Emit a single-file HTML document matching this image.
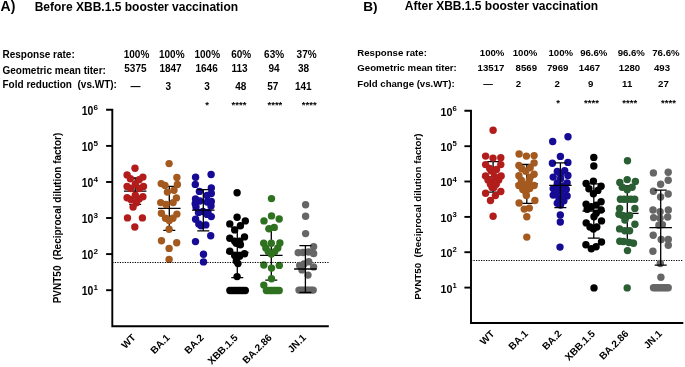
<!DOCTYPE html>
<html><head><meta charset="utf-8"><style>
html,body{margin:0;padding:0;background:#fff;}
svg{display:block;will-change:transform;}
text{font-family:"Liberation Sans",sans-serif;font-weight:bold;fill:#000;}
.b13{font-size:13px;} .b12{font-size:12px;} .b10{font-size:10px;} .b8{font-size:8px;}
</style></head><body>
<svg width="685" height="367" viewBox="0 0 685 367">
<rect width="685" height="367" fill="#fff"/>
<text x="0.6" y="10.8" style="font-size:14px">A)</text>
<text x="34.7" y="10.7" style="font-size:12px">Before XBB.1.5 booster vaccination</text>
<text x="2.5" y="57.5" style="font-size:10px" xml:space="preserve">Response rate:</text>
<text x="2.5" y="73.5" style="font-size:10px" xml:space="preserve">Geometric mean titer:</text>
<text x="2.5" y="88.0" style="font-size:10px" xml:space="preserve">Fold reduction  (vs.WT):</text>
<text x="136.5" y="57.5" text-anchor="middle" style="font-size:10px">100%</text>
<text x="171.8" y="57.5" text-anchor="middle" style="font-size:10px">100%</text>
<text x="207.3" y="57.5" text-anchor="middle" style="font-size:10px">100%</text>
<text x="241.2" y="57.5" text-anchor="middle" style="font-size:10px">60%</text>
<text x="274.1" y="57.5" text-anchor="middle" style="font-size:10px">63%</text>
<text x="306.6" y="57.5" text-anchor="middle" style="font-size:10px">37%</text>
<text x="135.4" y="71.9" text-anchor="middle" style="font-size:10px">5375</text>
<text x="170.5" y="71.9" text-anchor="middle" style="font-size:10px">1847</text>
<text x="206.6" y="71.9" text-anchor="middle" style="font-size:10px">1646</text>
<text x="239.6" y="71.9" text-anchor="middle" style="font-size:10px">113</text>
<text x="274.0" y="71.9" text-anchor="middle" style="font-size:10px">94</text>
<text x="303.5" y="71.9" text-anchor="middle" style="font-size:10px">38</text>
<text x="135.4" y="89.7" text-anchor="middle" style="font-size:10px">—</text>
<text x="168.2" y="89.7" text-anchor="middle" style="font-size:10px">3</text>
<text x="207.0" y="89.7" text-anchor="middle" style="font-size:10px">3</text>
<text x="240.7" y="89.7" text-anchor="middle" style="font-size:10px">48</text>
<text x="272.8" y="89.7" text-anchor="middle" style="font-size:10px">57</text>
<text x="303.3" y="89.7" text-anchor="middle" style="font-size:10px">141</text>
<text x="207.0" y="107.5" text-anchor="middle" style="font-size:9.5px">*</text>
<text x="239.0" y="107.5" text-anchor="middle" style="font-size:9.5px">****</text>
<text x="274.9" y="107.5" text-anchor="middle" style="font-size:9.5px">****</text>
<text x="309.2" y="107.5" text-anchor="middle" style="font-size:9.5px">****</text>
<text x="363.2" y="11.4" style="font-size:13.6px">B)</text>
<text x="404.8" y="10.4" style="font-size:12px">After XBB.1.5 booster vaccination</text>
<text x="357.3" y="56.1" style="font-size:9.65px" xml:space="preserve">Response rate:</text>
<text x="357.3" y="70.7" style="font-size:9.65px" xml:space="preserve">Geometric mean titer:</text>
<text x="357.3" y="86.5" style="font-size:9.65px" xml:space="preserve">Fold change (vs.WT):</text>
<text x="492.1" y="56.2" text-anchor="middle" style="font-size:9.65px">100%</text>
<text x="525.0" y="56.2" text-anchor="middle" style="font-size:9.65px">100%</text>
<text x="560.8" y="56.2" text-anchor="middle" style="font-size:9.65px">100%</text>
<text x="593.8" y="56.2" text-anchor="middle" style="font-size:9.65px">96.6%</text>
<text x="631.3" y="56.2" text-anchor="middle" style="font-size:9.65px">96.6%</text>
<text x="665.9" y="56.2" text-anchor="middle" style="font-size:9.65px">76.6%</text>
<text x="491.0" y="70.6" text-anchor="middle" style="font-size:9.65px">13517</text>
<text x="526.3" y="70.6" text-anchor="middle" style="font-size:9.65px">8569</text>
<text x="557.7" y="70.6" text-anchor="middle" style="font-size:9.65px">7969</text>
<text x="589.5" y="70.6" text-anchor="middle" style="font-size:9.65px">1467</text>
<text x="629.5" y="70.6" text-anchor="middle" style="font-size:9.65px">1280</text>
<text x="662.0" y="70.6" text-anchor="middle" style="font-size:9.65px">493</text>
<text x="488.0" y="87.1" text-anchor="middle" style="font-size:9.65px">—</text>
<text x="518.5" y="87.1" text-anchor="middle" style="font-size:9.65px">2</text>
<text x="557.1" y="87.1" text-anchor="middle" style="font-size:9.65px">2</text>
<text x="590.6" y="87.1" text-anchor="middle" style="font-size:9.65px">9</text>
<text x="627.2" y="87.1" text-anchor="middle" style="font-size:9.65px">11</text>
<text x="663.4" y="87.1" text-anchor="middle" style="font-size:9.65px">27</text>
<text x="558.0" y="105.5" text-anchor="middle" style="font-size:9.5px">*</text>
<text x="591.5" y="105.5" text-anchor="middle" style="font-size:9.5px">****</text>
<text x="629.7" y="105.5" text-anchor="middle" style="font-size:9.5px">****</text>
<text x="668.5" y="105.5" text-anchor="middle" style="font-size:9.5px">****</text>
<text transform="translate(61.0,218) rotate(-90)" text-anchor="middle" class="b10" xml:space="preserve">PVNT50  (Reciprocal dilution factor)</text>
<text transform="translate(421.2,216.6) rotate(-90)" text-anchor="middle" style="font-size:9.75px" xml:space="preserve">PVNT50  (Reciprocal dilution factor)</text>
<path d="M106.1 109.8H112.3V326.3H328.8" fill="none" stroke="#000" stroke-width="1.9"/>
<line x1="106.1" y1="145.9" x2="112.3" y2="145.9" stroke="#000" stroke-width="1.9"/>
<line x1="106.1" y1="182.0" x2="112.3" y2="182.0" stroke="#000" stroke-width="1.9"/>
<line x1="106.1" y1="218.0" x2="112.3" y2="218.0" stroke="#000" stroke-width="1.9"/>
<line x1="106.1" y1="254.1" x2="112.3" y2="254.1" stroke="#000" stroke-width="1.9"/>
<line x1="106.1" y1="290.2" x2="112.3" y2="290.2" stroke="#000" stroke-width="1.9"/>
<text x="93.3" y="114.7" text-anchor="end" textLength="11.6" lengthAdjust="spacingAndGlyphs" style="font-size:12px">10</text><text x="93.6" y="109.9" style="font-size:8.1px">6</text>
<text x="93.3" y="150.8" text-anchor="end" textLength="11.6" lengthAdjust="spacingAndGlyphs" style="font-size:12px">10</text><text x="93.6" y="146.0" style="font-size:8.1px">5</text>
<text x="93.3" y="186.9" text-anchor="end" textLength="11.6" lengthAdjust="spacingAndGlyphs" style="font-size:12px">10</text><text x="93.6" y="182.1" style="font-size:8.1px">4</text>
<text x="93.3" y="222.9" text-anchor="end" textLength="11.6" lengthAdjust="spacingAndGlyphs" style="font-size:12px">10</text><text x="93.6" y="218.1" style="font-size:8.1px">3</text>
<text x="93.3" y="259.0" text-anchor="end" textLength="11.6" lengthAdjust="spacingAndGlyphs" style="font-size:12px">10</text><text x="93.6" y="254.2" style="font-size:8.1px">2</text>
<text x="93.3" y="295.1" text-anchor="end" textLength="11.6" lengthAdjust="spacingAndGlyphs" style="font-size:12px">10</text><text x="93.6" y="290.3" style="font-size:8.1px">1</text>
<path d="M123.95 191.2h22.5M135.2 178.0V204.4M129.2 178.0h12M129.2 204.4h12" stroke="#000" stroke-width="1.3" fill="none"/>
<path d="M158.05 208.4h22.5M169.3 186.4V230.4M163.3 186.4h12M163.3 230.4h12" stroke="#000" stroke-width="1.3" fill="none"/>
<path d="M226.05 252.5h22.5M237.3 227.3V277.7M231.3 227.3h12M231.3 277.7h12" stroke="#000" stroke-width="1.3" fill="none"/>
<path d="M260.05 255.3h22.5M271.3 229.2V280.2M265.3 229.2h12M265.3 280.2h12" stroke="#000" stroke-width="1.3" fill="none"/>
<circle cx="135.0" cy="168.2" r="3.7" fill="#b21d1c"/>
<circle cx="127.1" cy="174.9" r="3.7" fill="#b21d1c"/>
<circle cx="142.9" cy="177.1" r="3.7" fill="#b21d1c"/>
<circle cx="130.4" cy="178.7" r="3.7" fill="#b21d1c"/>
<circle cx="139.1" cy="179.8" r="3.7" fill="#b21d1c"/>
<circle cx="135.3" cy="184.2" r="3.7" fill="#b21d1c"/>
<circle cx="127.1" cy="186.4" r="3.7" fill="#b21d1c"/>
<circle cx="143.5" cy="186.4" r="3.7" fill="#b21d1c"/>
<circle cx="130.9" cy="188.5" r="3.7" fill="#b21d1c"/>
<circle cx="139.6" cy="188.5" r="3.7" fill="#b21d1c"/>
<circle cx="135.3" cy="195.1" r="3.7" fill="#b21d1c"/>
<circle cx="127.1" cy="197.8" r="3.7" fill="#b21d1c"/>
<circle cx="142.9" cy="196.7" r="3.7" fill="#b21d1c"/>
<circle cx="130.9" cy="199.5" r="3.7" fill="#b21d1c"/>
<circle cx="139.1" cy="198.9" r="3.7" fill="#b21d1c"/>
<circle cx="136.4" cy="202.7" r="3.7" fill="#b21d1c"/>
<circle cx="133.1" cy="207.1" r="3.7" fill="#b21d1c"/>
<circle cx="127.5" cy="217.9" r="3.7" fill="#b21d1c"/>
<circle cx="142.4" cy="217.9" r="3.7" fill="#b21d1c"/>
<circle cx="134.8" cy="227.0" r="3.7" fill="#b21d1c"/>
<circle cx="169.1" cy="163.6" r="3.7" fill="#a45a1f"/>
<circle cx="176.9" cy="177.4" r="3.7" fill="#a45a1f"/>
<circle cx="161.2" cy="183.6" r="3.7" fill="#a45a1f"/>
<circle cx="165.0" cy="185.5" r="3.7" fill="#a45a1f"/>
<circle cx="177.4" cy="184.5" r="3.7" fill="#a45a1f"/>
<circle cx="174.0" cy="190.2" r="3.7" fill="#a45a1f"/>
<circle cx="167.4" cy="192.1" r="3.7" fill="#a45a1f"/>
<circle cx="176.4" cy="197.9" r="3.7" fill="#a45a1f"/>
<circle cx="160.7" cy="202.6" r="3.7" fill="#a45a1f"/>
<circle cx="166.0" cy="204.5" r="3.7" fill="#a45a1f"/>
<circle cx="173.1" cy="202.6" r="3.7" fill="#a45a1f"/>
<circle cx="161.4" cy="213.3" r="3.7" fill="#a45a1f"/>
<circle cx="176.9" cy="214.1" r="3.7" fill="#a45a1f"/>
<circle cx="165.5" cy="218.2" r="3.7" fill="#a45a1f"/>
<circle cx="172.9" cy="218.2" r="3.7" fill="#a45a1f"/>
<circle cx="169.3" cy="220.6" r="3.7" fill="#a45a1f"/>
<circle cx="169.1" cy="229.3" r="3.7" fill="#a45a1f"/>
<circle cx="161.5" cy="240.7" r="3.7" fill="#a45a1f"/>
<circle cx="176.7" cy="242.7" r="3.7" fill="#a45a1f"/>
<circle cx="169.1" cy="248.4" r="3.7" fill="#a45a1f"/>
<circle cx="169.1" cy="259.4" r="3.7" fill="#a45a1f"/>
<circle cx="237.1" cy="192.8" r="3.7" fill="#000000"/>
<circle cx="237.1" cy="217.3" r="3.7" fill="#000000"/>
<circle cx="229.8" cy="223.9" r="3.7" fill="#000000"/>
<circle cx="245.3" cy="220.9" r="3.7" fill="#000000"/>
<circle cx="240.4" cy="225.8" r="3.7" fill="#000000"/>
<circle cx="234.7" cy="229.9" r="3.7" fill="#000000"/>
<circle cx="229.8" cy="238.2" r="3.7" fill="#000000"/>
<circle cx="244.5" cy="236.9" r="3.7" fill="#000000"/>
<circle cx="234.7" cy="241.3" r="3.7" fill="#000000"/>
<circle cx="239.6" cy="241.3" r="3.7" fill="#000000"/>
<circle cx="236.3" cy="243.2" r="3.7" fill="#000000"/>
<circle cx="240.4" cy="244.8" r="3.7" fill="#000000"/>
<circle cx="229.8" cy="251.3" r="3.7" fill="#000000"/>
<circle cx="244.5" cy="253.8" r="3.7" fill="#000000"/>
<circle cx="234.7" cy="255.4" r="3.7" fill="#000000"/>
<circle cx="239.6" cy="256.2" r="3.7" fill="#000000"/>
<circle cx="236.3" cy="261.1" r="3.7" fill="#000000"/>
<circle cx="238.0" cy="263.6" r="3.7" fill="#000000"/>
<circle cx="237.1" cy="276.6" r="3.7" fill="#000000"/>
<circle cx="229.9" cy="290.5" r="3.7" fill="#000000"/>
<circle cx="231.8" cy="290.5" r="3.7" fill="#000000"/>
<circle cx="233.8" cy="290.5" r="3.7" fill="#000000"/>
<circle cx="235.7" cy="290.5" r="3.7" fill="#000000"/>
<circle cx="237.6" cy="290.5" r="3.7" fill="#000000"/>
<circle cx="239.5" cy="290.5" r="3.7" fill="#000000"/>
<circle cx="241.5" cy="290.5" r="3.7" fill="#000000"/>
<circle cx="243.4" cy="290.5" r="3.7" fill="#000000"/>
<circle cx="245.3" cy="290.5" r="3.7" fill="#000000"/>
<circle cx="271.5" cy="198.6" r="3.7" fill="#2e721f"/>
<circle cx="271.5" cy="215.9" r="3.7" fill="#2e721f"/>
<circle cx="264.0" cy="220.9" r="3.7" fill="#2e721f"/>
<circle cx="279.2" cy="219.0" r="3.7" fill="#2e721f"/>
<circle cx="269.0" cy="228.8" r="3.7" fill="#2e721f"/>
<circle cx="274.2" cy="227.4" r="3.7" fill="#2e721f"/>
<circle cx="263.7" cy="243.2" r="3.7" fill="#2e721f"/>
<circle cx="265.8" cy="248.0" r="3.7" fill="#2e721f"/>
<circle cx="268.2" cy="251.6" r="3.7" fill="#2e721f"/>
<circle cx="271.3" cy="254.0" r="3.7" fill="#2e721f"/>
<circle cx="274.8" cy="251.6" r="3.7" fill="#2e721f"/>
<circle cx="277.8" cy="248.0" r="3.7" fill="#2e721f"/>
<circle cx="279.9" cy="242.9" r="3.7" fill="#2e721f"/>
<circle cx="271.3" cy="243.2" r="3.7" fill="#2e721f"/>
<circle cx="263.8" cy="265.0" r="3.7" fill="#2e721f"/>
<circle cx="279.3" cy="265.4" r="3.7" fill="#2e721f"/>
<circle cx="271.5" cy="268.1" r="3.7" fill="#2e721f"/>
<circle cx="271.5" cy="278.7" r="3.7" fill="#2e721f"/>
<circle cx="263.8" cy="285.1" r="3.7" fill="#2e721f"/>
<circle cx="266.4" cy="290.5" r="3.7" fill="#2e721f"/>
<circle cx="268.2" cy="290.5" r="3.7" fill="#2e721f"/>
<circle cx="270.1" cy="290.5" r="3.7" fill="#2e721f"/>
<circle cx="271.9" cy="290.5" r="3.7" fill="#2e721f"/>
<circle cx="273.7" cy="290.5" r="3.7" fill="#2e721f"/>
<circle cx="275.5" cy="290.5" r="3.7" fill="#2e721f"/>
<circle cx="277.4" cy="290.5" r="3.7" fill="#2e721f"/>
<circle cx="279.2" cy="290.5" r="3.7" fill="#2e721f"/>
<line x1="112.3" y1="262.5" x2="328.8" y2="262.5" stroke="#000" stroke-width="1" stroke-dasharray="1.25,1.25"/>
<circle cx="211.1" cy="174.5" r="3.7" fill="#150b95"/>
<circle cx="195.6" cy="177.2" r="3.7" fill="#150b95"/>
<circle cx="195.3" cy="184.4" r="3.7" fill="#150b95"/>
<circle cx="211.3" cy="187.9" r="3.7" fill="#150b95"/>
<circle cx="199.4" cy="191.4" r="3.7" fill="#150b95"/>
<circle cx="211.3" cy="193.5" r="3.7" fill="#150b95"/>
<circle cx="207.0" cy="195.5" r="3.7" fill="#150b95"/>
<circle cx="195.5" cy="199.0" r="3.7" fill="#150b95"/>
<circle cx="199.8" cy="201.0" r="3.7" fill="#150b95"/>
<circle cx="211.3" cy="201.4" r="3.7" fill="#150b95"/>
<circle cx="195.2" cy="203.8" r="3.7" fill="#150b95"/>
<circle cx="207.2" cy="202.0" r="3.7" fill="#150b95"/>
<circle cx="211.0" cy="206.0" r="3.7" fill="#150b95"/>
<circle cx="196.0" cy="207.0" r="3.7" fill="#150b95"/>
<circle cx="203.0" cy="211.5" r="3.7" fill="#150b95"/>
<circle cx="198.5" cy="212.5" r="3.7" fill="#150b95"/>
<circle cx="208.0" cy="212.5" r="3.7" fill="#150b95"/>
<circle cx="211.3" cy="216.6" r="3.7" fill="#150b95"/>
<circle cx="195.6" cy="219.3" r="3.7" fill="#150b95"/>
<circle cx="207.2" cy="214.4" r="3.7" fill="#150b95"/>
<circle cx="198.8" cy="224.0" r="3.7" fill="#150b95"/>
<circle cx="201.1" cy="225.8" r="3.7" fill="#150b95"/>
<circle cx="205.8" cy="224.9" r="3.7" fill="#150b95"/>
<circle cx="210.7" cy="235.7" r="3.7" fill="#150b95"/>
<circle cx="195.5" cy="241.6" r="3.7" fill="#150b95"/>
<circle cx="203.5" cy="254.3" r="3.7" fill="#150b95"/>
<circle cx="203.5" cy="261.9" r="3.7" fill="#150b95"/>
<circle cx="305.6" cy="204.8" r="3.7" fill="#666666"/>
<circle cx="305.6" cy="216.2" r="3.7" fill="#666666"/>
<circle cx="305.6" cy="233.6" r="3.7" fill="#666666"/>
<circle cx="313.6" cy="246.7" r="3.7" fill="#666666"/>
<circle cx="298.2" cy="252.7" r="3.7" fill="#666666"/>
<circle cx="303.0" cy="252.5" r="3.7" fill="#666666"/>
<circle cx="308.5" cy="252.0" r="3.7" fill="#666666"/>
<circle cx="313.6" cy="253.5" r="3.7" fill="#666666"/>
<circle cx="308.7" cy="261.7" r="3.7" fill="#666666"/>
<circle cx="299.7" cy="265.4" r="3.7" fill="#666666"/>
<circle cx="304.0" cy="264.0" r="3.7" fill="#666666"/>
<circle cx="313.6" cy="266.9" r="3.7" fill="#666666"/>
<circle cx="302.0" cy="269.9" r="3.7" fill="#666666"/>
<circle cx="308.0" cy="275.1" r="3.7" fill="#666666"/>
<circle cx="299.0" cy="290.1" r="3.7" fill="#666666"/>
<circle cx="301.0" cy="290.1" r="3.7" fill="#666666"/>
<circle cx="303.1" cy="290.1" r="3.7" fill="#666666"/>
<circle cx="305.1" cy="290.1" r="3.7" fill="#666666"/>
<circle cx="307.1" cy="290.1" r="3.7" fill="#666666"/>
<circle cx="309.1" cy="290.1" r="3.7" fill="#666666"/>
<circle cx="311.2" cy="290.1" r="3.7" fill="#666666"/>
<circle cx="313.2" cy="290.1" r="3.7" fill="#666666"/>
<path d="M192.05 210.2h22.5M203.3 189.6V230.8M197.3 189.6h12M197.3 230.8h12" stroke="#000" stroke-width="1.3" fill="none"/>
<path d="M294.15 269.0h22.5M305.4 245.6V292.4M299.4 245.6h12M299.4 292.4h12" stroke="#000" stroke-width="1.3" fill="none"/>
<text transform="translate(136.4,338.3) rotate(-45)" text-anchor="end" style="font-size:10px">WT</text>
<text transform="translate(170.5,338.3) rotate(-45)" text-anchor="end" style="font-size:10px">BA.1</text>
<text transform="translate(204.5,338.3) rotate(-45)" text-anchor="end" style="font-size:10px">BA.2</text>
<text transform="translate(238.5,338.3) rotate(-45)" text-anchor="end" style="font-size:10px">XBB.1.5</text>
<text transform="translate(272.5,338.3) rotate(-45)" text-anchor="end" style="font-size:10px">BA.2.86</text>
<text transform="translate(306.6,338.3) rotate(-45)" text-anchor="end" style="font-size:10px">JN.1</text>
<path d="M464.4 110.8H471.0V323.0H683.3" fill="none" stroke="#000" stroke-width="1.9"/>
<line x1="464.4" y1="146.2" x2="471.0" y2="146.2" stroke="#000" stroke-width="1.9"/>
<line x1="464.4" y1="181.5" x2="471.0" y2="181.5" stroke="#000" stroke-width="1.9"/>
<line x1="464.4" y1="216.9" x2="471.0" y2="216.9" stroke="#000" stroke-width="1.9"/>
<line x1="464.4" y1="252.2" x2="471.0" y2="252.2" stroke="#000" stroke-width="1.9"/>
<line x1="464.4" y1="287.6" x2="471.0" y2="287.6" stroke="#000" stroke-width="1.9"/>
<text x="452.4" y="115.7" text-anchor="end" textLength="11.9" lengthAdjust="spacingAndGlyphs" style="font-size:11.5px">10</text><text x="452.6" y="110.8" style="font-size:7.7px">6</text>
<text x="452.4" y="151.1" text-anchor="end" textLength="11.9" lengthAdjust="spacingAndGlyphs" style="font-size:11.5px">10</text><text x="452.6" y="146.2" style="font-size:7.7px">5</text>
<text x="452.4" y="186.4" text-anchor="end" textLength="11.9" lengthAdjust="spacingAndGlyphs" style="font-size:11.5px">10</text><text x="452.6" y="181.5" style="font-size:7.7px">4</text>
<text x="452.4" y="221.8" text-anchor="end" textLength="11.9" lengthAdjust="spacingAndGlyphs" style="font-size:11.5px">10</text><text x="452.6" y="216.9" style="font-size:7.7px">3</text>
<text x="452.4" y="257.1" text-anchor="end" textLength="11.9" lengthAdjust="spacingAndGlyphs" style="font-size:11.5px">10</text><text x="452.6" y="252.2" style="font-size:7.7px">2</text>
<text x="452.4" y="292.5" text-anchor="end" textLength="11.9" lengthAdjust="spacingAndGlyphs" style="font-size:11.5px">10</text><text x="452.6" y="287.6" style="font-size:7.7px">1</text>
<path d="M481.85 176.9h22.5M493.1 161.6V192.2M487.1 161.6h12M487.1 192.2h12" stroke="#000" stroke-width="1.3" fill="none"/>
<path d="M515.55 183.9h22.5M526.8 164.5V203.3M520.8 164.5h12M520.8 203.3h12" stroke="#000" stroke-width="1.3" fill="none"/>
<path d="M582.55 211.0h22.5M593.8 183.8V238.2M587.8 183.8h12M587.8 238.2h12" stroke="#000" stroke-width="1.3" fill="none"/>
<path d="M616.05 213.4h22.5M627.3 186.0V240.5M621.3 186.0h12M621.3 240.5h12" stroke="#000" stroke-width="1.3" fill="none"/>
<circle cx="493.1" cy="130.3" r="3.7" fill="#b21d1c"/>
<circle cx="485.6" cy="156.1" r="3.7" fill="#b21d1c"/>
<circle cx="493.0" cy="158.1" r="3.7" fill="#b21d1c"/>
<circle cx="500.8" cy="157.7" r="3.7" fill="#b21d1c"/>
<circle cx="485.6" cy="164.6" r="3.7" fill="#b21d1c"/>
<circle cx="500.8" cy="164.6" r="3.7" fill="#b21d1c"/>
<circle cx="489.7" cy="168.5" r="3.7" fill="#b21d1c"/>
<circle cx="496.5" cy="169.5" r="3.7" fill="#b21d1c"/>
<circle cx="491.3" cy="171.1" r="3.7" fill="#b21d1c"/>
<circle cx="485.6" cy="176.0" r="3.7" fill="#b21d1c"/>
<circle cx="488.0" cy="180.1" r="3.7" fill="#b21d1c"/>
<circle cx="490.5" cy="184.2" r="3.7" fill="#b21d1c"/>
<circle cx="492.1" cy="187.4" r="3.7" fill="#b21d1c"/>
<circle cx="501.1" cy="176.0" r="3.7" fill="#b21d1c"/>
<circle cx="498.7" cy="180.1" r="3.7" fill="#b21d1c"/>
<circle cx="496.2" cy="184.2" r="3.7" fill="#b21d1c"/>
<circle cx="493.8" cy="187.4" r="3.7" fill="#b21d1c"/>
<circle cx="494.5" cy="176.5" r="3.7" fill="#b21d1c"/>
<circle cx="493.0" cy="182.0" r="3.7" fill="#b21d1c"/>
<circle cx="485.6" cy="193.2" r="3.7" fill="#b21d1c"/>
<circle cx="500.8" cy="191.5" r="3.7" fill="#b21d1c"/>
<circle cx="495.4" cy="195.6" r="3.7" fill="#b21d1c"/>
<circle cx="490.5" cy="200.5" r="3.7" fill="#b21d1c"/>
<circle cx="493.1" cy="216.3" r="3.7" fill="#b21d1c"/>
<circle cx="519.1" cy="154.0" r="3.7" fill="#a45a1f"/>
<circle cx="526.4" cy="156.1" r="3.7" fill="#a45a1f"/>
<circle cx="534.1" cy="155.6" r="3.7" fill="#a45a1f"/>
<circle cx="534.1" cy="162.9" r="3.7" fill="#a45a1f"/>
<circle cx="518.9" cy="165.4" r="3.7" fill="#a45a1f"/>
<circle cx="521.8" cy="168.8" r="3.7" fill="#a45a1f"/>
<circle cx="530.2" cy="167.8" r="3.7" fill="#a45a1f"/>
<circle cx="525.8" cy="171.3" r="3.7" fill="#a45a1f"/>
<circle cx="518.9" cy="175.7" r="3.7" fill="#a45a1f"/>
<circle cx="534.1" cy="174.2" r="3.7" fill="#a45a1f"/>
<circle cx="530.2" cy="177.2" r="3.7" fill="#a45a1f"/>
<circle cx="521.3" cy="180.1" r="3.7" fill="#a45a1f"/>
<circle cx="529.2" cy="180.1" r="3.7" fill="#a45a1f"/>
<circle cx="518.9" cy="185.5" r="3.7" fill="#a45a1f"/>
<circle cx="534.1" cy="185.5" r="3.7" fill="#a45a1f"/>
<circle cx="523.8" cy="184.5" r="3.7" fill="#a45a1f"/>
<circle cx="528.7" cy="184.0" r="3.7" fill="#a45a1f"/>
<circle cx="525.8" cy="187.5" r="3.7" fill="#a45a1f"/>
<circle cx="522.8" cy="189.4" r="3.7" fill="#a45a1f"/>
<circle cx="529.7" cy="188.5" r="3.7" fill="#a45a1f"/>
<circle cx="525.8" cy="192.4" r="3.7" fill="#a45a1f"/>
<circle cx="526.4" cy="195.6" r="3.7" fill="#a45a1f"/>
<circle cx="519.1" cy="203.0" r="3.7" fill="#a45a1f"/>
<circle cx="534.9" cy="200.5" r="3.7" fill="#a45a1f"/>
<circle cx="524.2" cy="209.1" r="3.7" fill="#a45a1f"/>
<circle cx="529.3" cy="208.1" r="3.7" fill="#a45a1f"/>
<circle cx="526.8" cy="216.7" r="3.7" fill="#a45a1f"/>
<circle cx="526.8" cy="237.1" r="3.7" fill="#a45a1f"/>
<circle cx="593.8" cy="157.4" r="3.7" fill="#000000"/>
<circle cx="593.8" cy="166.0" r="3.7" fill="#000000"/>
<circle cx="593.4" cy="181.1" r="3.7" fill="#000000"/>
<circle cx="586.1" cy="183.4" r="3.7" fill="#000000"/>
<circle cx="601.1" cy="186.3" r="3.7" fill="#000000"/>
<circle cx="588.9" cy="188.8" r="3.7" fill="#000000"/>
<circle cx="597.9" cy="190.4" r="3.7" fill="#000000"/>
<circle cx="593.4" cy="193.7" r="3.7" fill="#000000"/>
<circle cx="586.1" cy="204.3" r="3.7" fill="#000000"/>
<circle cx="601.1" cy="201.8" r="3.7" fill="#000000"/>
<circle cx="591.3" cy="206.7" r="3.7" fill="#000000"/>
<circle cx="596.2" cy="205.1" r="3.7" fill="#000000"/>
<circle cx="587.2" cy="209.2" r="3.7" fill="#000000"/>
<circle cx="601.1" cy="210.0" r="3.7" fill="#000000"/>
<circle cx="596.2" cy="213.3" r="3.7" fill="#000000"/>
<circle cx="594.0" cy="216.8" r="3.7" fill="#000000"/>
<circle cx="586.2" cy="222.9" r="3.7" fill="#000000"/>
<circle cx="601.5" cy="220.9" r="3.7" fill="#000000"/>
<circle cx="590.0" cy="227.0" r="3.7" fill="#000000"/>
<circle cx="596.8" cy="227.0" r="3.7" fill="#000000"/>
<circle cx="593.4" cy="229.0" r="3.7" fill="#000000"/>
<circle cx="585.9" cy="244.7" r="3.7" fill="#000000"/>
<circle cx="601.5" cy="242.0" r="3.7" fill="#000000"/>
<circle cx="591.3" cy="248.8" r="3.7" fill="#000000"/>
<circle cx="596.1" cy="246.7" r="3.7" fill="#000000"/>
<circle cx="594.0" cy="287.9" r="3.7" fill="#000000"/>
<circle cx="627.5" cy="160.7" r="3.7" fill="#2a5f33"/>
<circle cx="627.2" cy="179.6" r="3.7" fill="#2a5f33"/>
<circle cx="619.8" cy="182.4" r="3.7" fill="#2a5f33"/>
<circle cx="635.4" cy="181.5" r="3.7" fill="#2a5f33"/>
<circle cx="622.3" cy="187.3" r="3.7" fill="#2a5f33"/>
<circle cx="632.1" cy="187.3" r="3.7" fill="#2a5f33"/>
<circle cx="627.2" cy="189.7" r="3.7" fill="#2a5f33"/>
<circle cx="620.4" cy="199.3" r="3.7" fill="#2a5f33"/>
<circle cx="624.0" cy="199.3" r="3.7" fill="#2a5f33"/>
<circle cx="627.5" cy="199.3" r="3.7" fill="#2a5f33"/>
<circle cx="631.0" cy="199.3" r="3.7" fill="#2a5f33"/>
<circle cx="634.7" cy="199.3" r="3.7" fill="#2a5f33"/>
<circle cx="619.6" cy="208.4" r="3.7" fill="#2a5f33"/>
<circle cx="634.9" cy="208.4" r="3.7" fill="#2a5f33"/>
<circle cx="619.0" cy="214.3" r="3.7" fill="#2a5f33"/>
<circle cx="622.5" cy="215.4" r="3.7" fill="#2a5f33"/>
<circle cx="626.0" cy="217.2" r="3.7" fill="#2a5f33"/>
<circle cx="629.6" cy="215.4" r="3.7" fill="#2a5f33"/>
<circle cx="624.9" cy="220.1" r="3.7" fill="#2a5f33"/>
<circle cx="634.9" cy="224.2" r="3.7" fill="#2a5f33"/>
<circle cx="619.6" cy="228.9" r="3.7" fill="#2a5f33"/>
<circle cx="624.9" cy="230.7" r="3.7" fill="#2a5f33"/>
<circle cx="629.6" cy="230.7" r="3.7" fill="#2a5f33"/>
<circle cx="619.8" cy="241.2" r="3.7" fill="#2a5f33"/>
<circle cx="623.5" cy="241.5" r="3.7" fill="#2a5f33"/>
<circle cx="629.0" cy="242.5" r="3.7" fill="#2a5f33"/>
<circle cx="633.5" cy="243.3" r="3.7" fill="#2a5f33"/>
<circle cx="627.5" cy="250.6" r="3.7" fill="#2a5f33"/>
<circle cx="627.2" cy="287.9" r="3.7" fill="#2a5f33"/>
<line x1="471.0" y1="260.5" x2="683.3" y2="260.5" stroke="#000" stroke-width="1" stroke-dasharray="1.25,1.25"/>
<circle cx="568.0" cy="136.8" r="3.7" fill="#150b95"/>
<circle cx="552.7" cy="141.5" r="3.7" fill="#150b95"/>
<circle cx="560.4" cy="156.4" r="3.7" fill="#150b95"/>
<circle cx="552.4" cy="163.3" r="3.7" fill="#150b95"/>
<circle cx="567.9" cy="162.4" r="3.7" fill="#150b95"/>
<circle cx="557.3" cy="171.4" r="3.7" fill="#150b95"/>
<circle cx="564.7" cy="170.6" r="3.7" fill="#150b95"/>
<circle cx="567.9" cy="175.5" r="3.7" fill="#150b95"/>
<circle cx="553.2" cy="177.1" r="3.7" fill="#150b95"/>
<circle cx="560.6" cy="178.8" r="3.7" fill="#150b95"/>
<circle cx="560.5" cy="174.0" r="3.7" fill="#150b95"/>
<circle cx="557.3" cy="182.9" r="3.7" fill="#150b95"/>
<circle cx="567.1" cy="182.9" r="3.7" fill="#150b95"/>
<circle cx="553.2" cy="188.6" r="3.7" fill="#150b95"/>
<circle cx="566.3" cy="189.4" r="3.7" fill="#150b95"/>
<circle cx="560.6" cy="191.0" r="3.7" fill="#150b95"/>
<circle cx="557.0" cy="186.0" r="3.7" fill="#150b95"/>
<circle cx="563.0" cy="186.0" r="3.7" fill="#150b95"/>
<circle cx="553.2" cy="195.1" r="3.7" fill="#150b95"/>
<circle cx="567.1" cy="195.9" r="3.7" fill="#150b95"/>
<circle cx="559.0" cy="198.4" r="3.7" fill="#150b95"/>
<circle cx="563.9" cy="200.8" r="3.7" fill="#150b95"/>
<circle cx="557.3" cy="203.3" r="3.7" fill="#150b95"/>
<circle cx="556.0" cy="193.0" r="3.7" fill="#150b95"/>
<circle cx="563.0" cy="196.0" r="3.7" fill="#150b95"/>
<circle cx="560.5" cy="205.0" r="3.7" fill="#150b95"/>
<circle cx="560.3" cy="214.9" r="3.7" fill="#150b95"/>
<circle cx="560.3" cy="222.0" r="3.7" fill="#150b95"/>
<circle cx="560.0" cy="247.1" r="3.7" fill="#150b95"/>
<circle cx="653.4" cy="172.9" r="3.7" fill="#666666"/>
<circle cx="668.2" cy="172.2" r="3.7" fill="#666666"/>
<circle cx="668.2" cy="180.3" r="3.7" fill="#666666"/>
<circle cx="660.6" cy="184.2" r="3.7" fill="#666666"/>
<circle cx="653.4" cy="191.2" r="3.7" fill="#666666"/>
<circle cx="668.2" cy="194.0" r="3.7" fill="#666666"/>
<circle cx="660.6" cy="197.0" r="3.7" fill="#666666"/>
<circle cx="653.0" cy="210.0" r="3.7" fill="#666666"/>
<circle cx="668.3" cy="210.0" r="3.7" fill="#666666"/>
<circle cx="660.1" cy="211.7" r="3.7" fill="#666666"/>
<circle cx="653.6" cy="217.6" r="3.7" fill="#666666"/>
<circle cx="667.7" cy="217.0" r="3.7" fill="#666666"/>
<circle cx="660.1" cy="218.2" r="3.7" fill="#666666"/>
<circle cx="662.4" cy="224.6" r="3.7" fill="#666666"/>
<circle cx="658.9" cy="225.2" r="3.7" fill="#666666"/>
<circle cx="653.2" cy="235.3" r="3.7" fill="#666666"/>
<circle cx="661.2" cy="239.5" r="3.7" fill="#666666"/>
<circle cx="668.3" cy="239.5" r="3.7" fill="#666666"/>
<circle cx="668.3" cy="245.3" r="3.7" fill="#666666"/>
<circle cx="652.9" cy="251.2" r="3.7" fill="#666666"/>
<circle cx="660.3" cy="263.5" r="3.7" fill="#666666"/>
<circle cx="660.9" cy="277.2" r="3.7" fill="#666666"/>
<circle cx="653.5" cy="287.7" r="3.7" fill="#666666"/>
<circle cx="655.6" cy="287.7" r="3.7" fill="#666666"/>
<circle cx="657.7" cy="287.7" r="3.7" fill="#666666"/>
<circle cx="659.8" cy="287.7" r="3.7" fill="#666666"/>
<circle cx="661.9" cy="287.7" r="3.7" fill="#666666"/>
<circle cx="664.0" cy="287.7" r="3.7" fill="#666666"/>
<circle cx="666.1" cy="287.7" r="3.7" fill="#666666"/>
<circle cx="668.2" cy="287.7" r="3.7" fill="#666666"/>
<path d="M549.15 185.3h22.5M560.4 162.9V207.7M554.4 162.9h12M554.4 207.7h12" stroke="#000" stroke-width="1.3" fill="none"/>
<path d="M649.45 227.7h22.5M660.7 190.2V265.2M654.7 190.2h12M654.7 265.2h12" stroke="#000" stroke-width="1.3" fill="none"/>
<text transform="translate(495.0,334.4) rotate(-45)" text-anchor="end" style="font-size:10px">WT</text>
<text transform="translate(528.7,334.4) rotate(-45)" text-anchor="end" style="font-size:10px">BA.1</text>
<text transform="translate(562.3,334.4) rotate(-45)" text-anchor="end" style="font-size:10px">BA.2</text>
<text transform="translate(595.7,334.4) rotate(-45)" text-anchor="end" style="font-size:10px">XBB.1.5</text>
<text transform="translate(629.2,334.4) rotate(-45)" text-anchor="end" style="font-size:10px">BA.2.86</text>
<text transform="translate(662.6,334.4) rotate(-45)" text-anchor="end" style="font-size:10px">JN.1</text>
</svg>
</body></html>
